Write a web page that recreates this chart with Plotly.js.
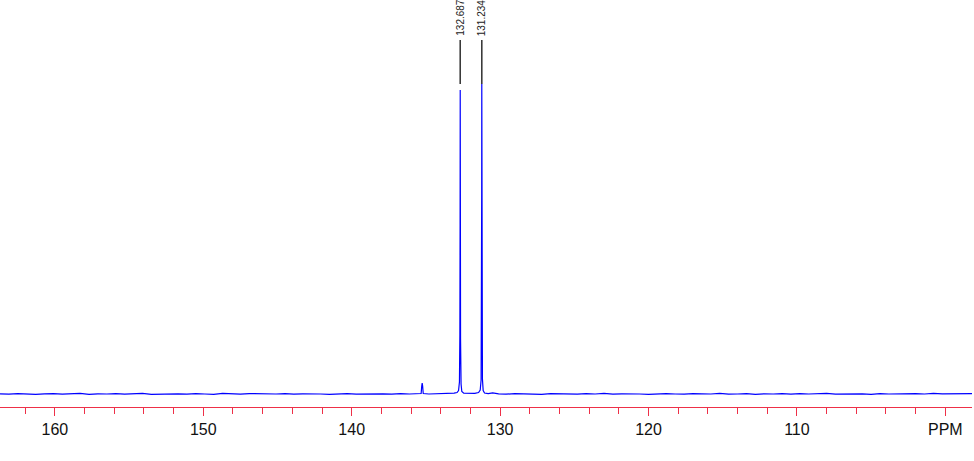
<!DOCTYPE html>
<html>
<head>
<meta charset="utf-8">
<script src="https://cdn.plot.ly/plotly-3.0.1.min.js"></script>
<style>html,body{margin:0;padding:0;background:#fff;}#chart{width:974px;height:461px;}</style>
</head>
<body>
<div id="chart"></div>
<script>
// chemical shift (ppm) and intensity (baseline = 0)
const ppm = [163.7,163.1,162.5,161.9,161.3,160.7,160.1,159.5,158.9,158.3,157.7,157.1,156.5,155.9,155.3,154.7,154.1,153.5,152.9,152.3,151.7,151.1,150.5,149.9,149.3,148.7,148.1,147.5,146.9,146.3,145.7,145.1,144.5,143.9,143.3,142.7,142.1,141.5,140.9,140.3,139.7,139.1,138.5,137.9,137.3,136.7,136.1,135.6,135.32,135.28,135.25,135.22,135.18,134.8,134.2,133.6,133.1,132.9,132.8,132.74,132.71,132.695,132.687,132.68,132.665,132.63,132.58,132.45,132.1,131.7,131.45,131.34,131.28,131.25,131.24,131.234,131.228,131.215,131.19,131.14,131.05,130.8,130.5,130.1,129.6,129.0,128.4,127.8,127.2,126.6,126.0,125.4,124.8,124.2,123.6,123.0,122.4,121.8,121.2,120.6,120.0,119.4,118.8,118.2,117.6,117.0,116.4,115.8,115.2,114.6,114.0,113.4,112.8,112.2,111.6,111.0,110.4,109.8,109.2,108.6,108.0,107.4,106.8,106.2,105.6,105.0,104.4,103.8,103.2,102.6,102.0,101.4,100.8,100.2,99.6,99.0,98.2];
const intensity = [0.2,-0.2,0.4,0,-0.4,0.2,0.4,-0.2,0,0.6,-0.4,0.2,0,0.4,-0.2,0.2,0.6,-0.4,0,0.4,0.2,-0.2,0.4,0,-0.4,0.6,0,-0.2,0.4,0.2,-0.4,0,0.4,-0.2,0.2,0.4,0,-0.4,0.2,0.4,-0.2,0,0.4,0.2,-0.2,0.4,0,0.2,0.5,8,11,8,0.5,0,0.2,0.4,0.8,1.5,3.5,12,60,170,304,150,55,10,2.5,0.8,0.4,0.6,1.5,4,14,80,200,310,180,70,15,3.5,1,0.3,1.2,0.2,-0.2,0.4,0,0.2,-0.4,0.4,0.2,0,-0.2,0.4,0,0.6,-0.2,0.2,0.4,0,-0.4,0.2,0.4,0,-0.2,0.4,0.2,0,0.6,-0.2,0,0.4,-0.4,0.2,0,0.4,-0.2,0.4,0,0.2,0.6,-0.2,0,0.4,0.2,-0.4,0.4,0,0.2,-0.2,0.4,0,0.6,0.2,0.2,-0.2,0.4];
const peakLabels = ['132.687','131.234'];
const peakPos = [132.687, 131.234];
const tickVals = [160,150,140,130,120,110,100];
const tickText = ['160','150','140','130','120','110','PPM'];

const red = '#ee3048';
const shapes = peakPos.map(p => ({type:'line', xref:'x', yref:'y', x0:p, x1:p, y0:310, y1:354, line:{color:'#3a3a3a', width:1.6}}));
const annotations = peakPos.map((p,i) => ({x:p, y:356, xref:'x', yref:'y', text:peakLabels[i], textangle:-90, showarrow:false, xanchor:'center', yanchor:'bottom', font:{family:'Liberation Sans, Arial, sans-serif', size:10, color:'#222'}}));

Plotly.newPlot('chart', [{
  x: ppm, y: intensity, type:'scatter', mode:'lines',
  line:{color:'#0000ff', width:1.2}, hoverinfo:'skip'
}], {
  width:974, height:461,
  margin:{l:0, r:2, t:0, b:54},
  paper_bgcolor:'#fff', plot_bgcolor:'#fff',
  showlegend:false,
  xaxis:{
    range:[163.7, 98.2], showgrid:false, zeroline:false,
    showline:true, linecolor:red, linewidth:1,
    ticks:'outside', ticklen:8, tickwidth:1, tickcolor:red,
    tickmode:'array', tickvals:tickVals, ticktext:tickText,
    tickfont:{family:'Liberation Sans, Arial, sans-serif', size:16, color:'#111'},
    minor:{dtick:2, tick0:0, ticks:'outside', ticklen:6, tickwidth:1, tickcolor:red, showgrid:false}
  },
  yaxis:{range:[-13, 394], visible:false, showgrid:false, zeroline:false},
  shapes: shapes,
  annotations: annotations
}, {staticPlot:true, displayModeBar:false});
</script>
</body>
</html>
